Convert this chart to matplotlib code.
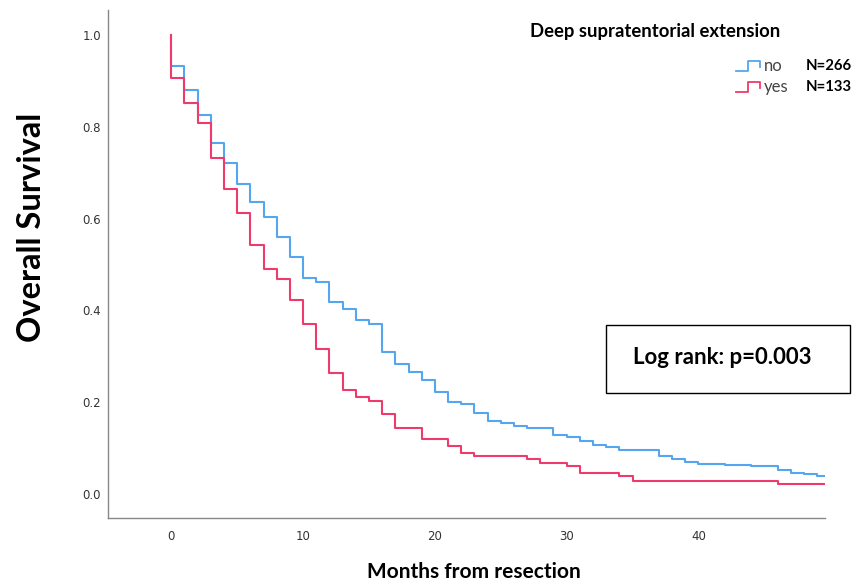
import matplotlib
matplotlib.use("Agg")
import matplotlib.pyplot as plt
from matplotlib.lines import Line2D
from matplotlib.patches import Rectangle

# Kaplan-Meier estimates (months, survival)
no_months = [0, 0, 1, 2, 3, 4, 5, 6, 7, 8, 9, 10, 11, 12, 13, 14, 15, 16, 17,
             18, 19, 20, 21, 22, 23, 24, 25, 26, 27, 29, 30, 31, 32, 33, 34,
             37, 38, 39, 40, 42, 44, 46, 47, 48, 49]
no_surv = [1.0, 0.931, 0.879, 0.826, 0.765, 0.720, 0.675, 0.637, 0.604, 0.559,
           0.516, 0.471, 0.461, 0.419, 0.403, 0.380, 0.370, 0.309, 0.283,
           0.265, 0.248, 0.222, 0.200, 0.196, 0.176, 0.160, 0.155, 0.148,
           0.144, 0.128, 0.124, 0.115, 0.108, 0.103, 0.097, 0.083, 0.076,
           0.069, 0.065, 0.063, 0.061, 0.052, 0.046, 0.044, 0.039]

yes_months = [0, 0, 1, 2, 3, 4, 5, 6, 7, 8, 9, 10, 11, 12, 13, 14, 15, 16, 17,
              19, 21, 22, 23, 27, 28, 30, 31, 34, 35, 46]
yes_surv = [1.0, 0.906, 0.851, 0.808, 0.732, 0.664, 0.613, 0.542, 0.490, 0.468,
            0.422, 0.370, 0.317, 0.264, 0.227, 0.212, 0.203, 0.174, 0.143,
            0.121, 0.105, 0.090, 0.084, 0.076, 0.068, 0.061, 0.045, 0.039,
            0.029, 0.023]

followup_end = 49.6
groups = ["no", "yes"]
group_n = [266, 133]
colors = ["#56a5ef", "#ef3b6b"]

x_ticks = [0, 10, 20, 30, 40]
y_ticks = [0.0, 0.2, 0.4, 0.6, 0.8, 1.0]

W, H = 868, 584
fig = plt.figure(figsize=(W / 100, H / 100), dpi=100)


def fx(px):
    return px / W


def fy(py):
    return 1 - py / H


ax = fig.add_axes([fx(108), fy(518), fx(825) - fx(108), fy(10) - fy(518)])

for t, s, c in [(no_months, no_surv, colors[0]), (yes_months, yes_surv, colors[1])]:
    ax.step(t + [followup_end], s + [s[-1]], where="post", color=c, lw=1.5)

ax.set_xlim(-4.8, 49.6)
ax.set_ylim(-0.052, 1.054)
ax.set_xticks(x_ticks)
ax.set_yticks(y_ticks)
ax.set_yticklabels([f"{v:.1f}" for v in y_ticks])
ax.tick_params(length=0, labelsize=8.5, colors="#333333")
ax.tick_params(axis="x", pad=9)
ax.tick_params(axis="y", pad=5)
for sp in ["top", "right"]:
    ax.spines[sp].set_visible(False)
for sp in ["left", "bottom"]:
    ax.spines[sp].set_color("#888888")
    ax.spines[sp].set_linewidth(1.0)

bold = dict(family="Lato", weight="bold", color="black")
fig.text(fx(32), fy(227), "Overall Survival", rotation=90, ha="center",
         va="center", fontsize=23.5, **bold)
fig.text(fx(474), fy(572), "Months from resection", ha="center",
         va="center", fontsize=15, **bold)

# legend
fig.text(fx(655), fy(32), "Deep supratentorial extension", ha="center",
         va="center", fontsize=13.3, **bold)
for i, (g, n, c) in enumerate(zip(groups, group_n, colors)):
    yc = 66 + 21 * i
    xs = [736, 748, 748, 760, 760]
    ys = [yc + 5, yc + 5, yc - 5, yc - 5, yc + 1]
    fig.add_artist(Line2D([fx(v) for v in xs], [fy(v) for v in ys],
                          transform=fig.transFigure, color=c, lw=1.3))
    fig.text(fx(764), fy(yc), g, ha="left", va="center", fontsize=12,
             family="Lato", color="#444444")
    fig.text(fx(806), fy(yc), f"N={n}", ha="left", va="center",
             fontsize=10.7, **bold)

# log-rank box
fig.add_artist(Rectangle((fx(606), fy(393)), fx(850) - fx(606),
                         fy(325) - fy(393), transform=fig.transFigure,
                         fill=False, edgecolor="black", lw=1.0))
fig.text(fx(722), fy(357), "Log rank: p=0.003", ha="center", va="center",
         fontsize=16, **bold)

fig.savefig("out.png", dpi=100)
